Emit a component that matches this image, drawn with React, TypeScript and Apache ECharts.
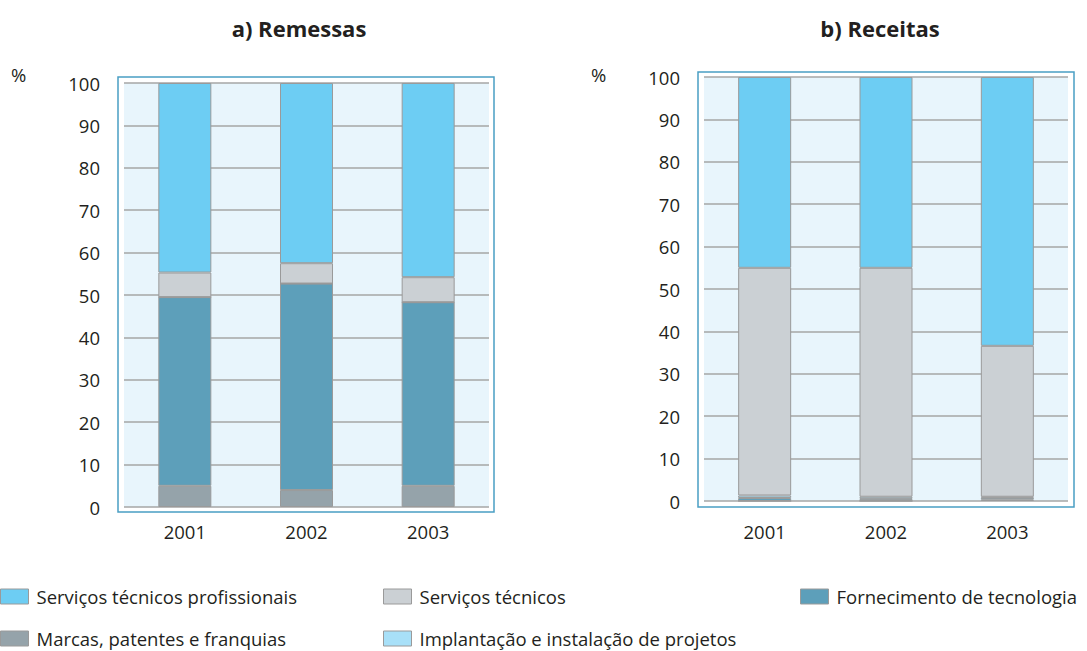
import React, { useEffect, useRef } from "react";
import * as echarts from "echarts";

const categories = ["2001", "2002", "2003"];
const yTicks = [0, 10, 20, 30, 40, 50, 60, 70, 80, 90, 100];

const seriesNames = [
  "Marcas, patentes e franquias",
  "Fornecimento de tecnologia",
  "Implantação e instalação de projetos",
  "Serviços técnicos",
  "Serviços técnicos profissionais",
];

// a) Remessas
const remMarcas = [5.0, 4.0, 5.0];
const remFornecimento = [44.5, 48.7, 43.3];
const remImplantacao = [0, 0, 0];
const remTecnicos = [5.8, 4.8, 5.9];
const remProfissionais = [44.7, 42.5, 45.8];

// b) Receitas
const recMarcas = [0, 0, 0.4];
const recFornecimento = [0.7, 0.5, 0.4];
const recImplantacao = [0.6, 0.5, 0.2];
const recTecnicos = [53.7, 54.0, 35.6];
const recProfissionais = [45.0, 45.0, 63.4];

const colors: Record<string, string> = {
  "Marcas, patentes e franquias": "#95a3aa",
  "Fornecimento de tecnologia": "#5d9fba",
  "Implantação e instalação de projetos": "#a8e0f8",
  "Serviços técnicos": "#cbd0d4",
  "Serviços técnicos profissionais": "#6dcdf3",
};

const FONT = "'Open Sans', sans-serif";
const TXT = "#231f20";

export default function App() {
  const ref = useRef<HTMLDivElement>(null);
  useEffect(() => {
    if (!ref.current) return;
    const chart = echarts.init(ref.current, undefined, { renderer: "svg" });
    const remData = [remMarcas, remFornecimento, remImplantacao, remTecnicos, remProfissionais];
    const recData = [recMarcas, recFornecimento, recImplantacao, recTecnicos, recProfissionais];

    const mkSeries = (data: number[][], idx: number, stack: string) =>
      seriesNames.map((name, i) => ({
        name,
        type: "bar",
        stack,
        xAxisIndex: idx,
        yAxisIndex: idx,
        barWidth: 53,
        data: data[i],
        itemStyle: { color: colors[name], borderColor: "#9a9a9a", borderWidth: 1 },
      }));

    const xAxis = (idx: number, margin: number) => ({
      type: "category",
      gridIndex: idx,
      data: categories,
      axisLine: { show: false },
      axisTick: { show: false },
      axisLabel: { color: TXT, fontSize: 18.5, fontFamily: FONT, margin },
      splitLine: { show: false },
    });
    const yAxis = (idx: number) => ({
      type: "value",
      gridIndex: idx,
      min: yTicks[0],
      max: yTicks[yTicks.length - 1],
      interval: 10,
      axisLine: { show: false },
      axisTick: { show: false },
      axisLabel: { color: TXT, fontSize: 18.5, fontFamily: FONT, margin: 24 },
      splitLine: { show: true, lineStyle: { color: "#a6a6a6", width: 1.5 } },
    });

    const legendItem = (name: string, left: number, top: number) => ({
      show: true,
      data: [name],
      left,
      top,
      padding: 0,
      itemWidth: 28,
      itemHeight: 15,
      icon: "rect",
      itemStyle: { borderColor: "#9a9a9a", borderWidth: 1 },
      textStyle: { color: TXT, fontSize: 18.5, fontFamily: FONT, padding: [0, 0, 0, 3] },
      selectedMode: false,
    });

    chart.setOption({
      animation: false,
      backgroundColor: "#ffffff",
      title: [
        {
          text: "a) Remessas",
          left: 294,
          top: 12,
          textAlign: "center",
          textStyle: { color: TXT, fontSize: 22, fontWeight: "bold", fontFamily: FONT },
        },
        {
          text: "b) Receitas",
          left: 875,
          top: 12,
          textAlign: "center",
          textStyle: { color: TXT, fontSize: 22, fontWeight: "bold", fontFamily: FONT },
        },
      ],
      graphic: [
        {
          type: "rect",
          shape: { x: 118, y: 77, width: 376, height: 435 },
          style: { fill: "#ffffff", stroke: "#4a9fc4", lineWidth: 1.5 },
          z: -10,
        },
        {
          type: "rect",
          shape: { x: 698, y: 72, width: 376, height: 435 },
          style: { fill: "#ffffff", stroke: "#4a9fc4", lineWidth: 1.5 },
          z: -10,
        },
        {
          type: "text",
          x: 11,
          y: 65,
          style: { text: "%", fill: TXT, fontSize: 18.5, fontFamily: FONT },
        },
        {
          type: "text",
          x: 591,
          y: 65,
          style: { text: "%", fill: TXT, fontSize: 18.5, fontFamily: FONT },
        },
      ],
      legend: [
        legendItem("Serviços técnicos profissionais", 0, 587),
        legendItem("Serviços técnicos", 383, 587),
        legendItem("Fornecimento de tecnologia", 800, 587),
        legendItem("Marcas, patentes e franquias", 0, 629),
        legendItem("Implantação e instalação de projetos", 383, 629),
      ],
      grid: [
        {
          left: 124,
          top: 83,
          width: 365,
          height: 424,
          show: true,
          backgroundColor: "#e8f5fc",
          borderWidth: 0,
        },
        {
          left: 704,
          top: 77,
          width: 364,
          height: 424,
          show: true,
          backgroundColor: "#e8f5fc",
          borderWidth: 0,
        },
      ],
      xAxis: [xAxis(0, 15), xAxis(1, 21)],
      yAxis: [yAxis(0), yAxis(1)],
      series: [...mkSeries(remData, 0, "rem"), ...mkSeries(recData, 1, "rec")],
    });
    return () => chart.dispose();
  }, []);
  return (
    <div
      ref={ref}
      style={{ position: "fixed", left: 0, top: 0, width: 1087, height: 651 }}
    />
  );
}
